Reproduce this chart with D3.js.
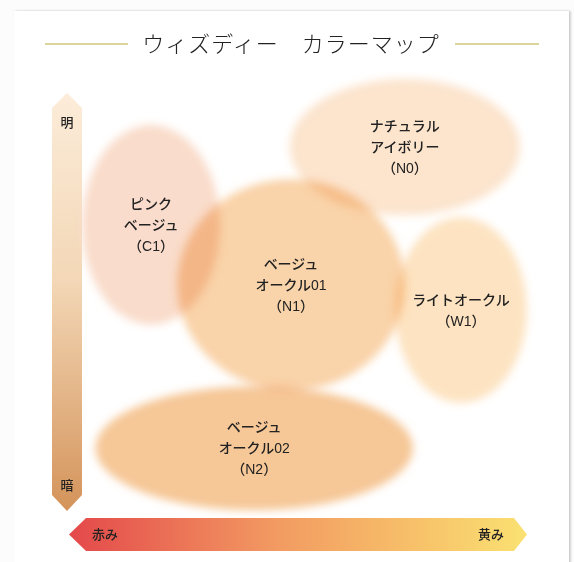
<!DOCTYPE html>
<html><head><meta charset="utf-8">
<script src="https://cdn.jsdelivr.net/npm/d3@7/dist/d3.min.js"></script>
<style>
html,body{margin:0;padding:0;background:#fcfcfc;}
svg{display:block;}
</style></head>
<body><svg id="c" width="574" height="562"></svg>
<script>
// ---- data ----
const title = "ウィズディー　カラーマップ";
const codes = ["C1", "N1", "N0", "W1", "N2"];
const labels = [
  ["ピンク", "ベージュ", "（C1）"],
  ["ベージュ", "オークル01", "（N1）"],
  ["ナチュラル", "アイボリー", "（N0）"],
  ["ライトオークル", "（W1）"],
  ["ベージュ", "オークル02", "（N2）"]
];
// redness(0) -> yellowness(100)
const hueX   = [15.2, 47.9, 74.5, 87.6, 39.3];
const hueR   = [16.1, 26.6, 26.9, 15.4, 37.1];
// dark(0) -> bright(100)
const lightY = [69.8, 54.3, 89.9, 47.8, 12.1];
const lightR = [25.8, 27.3, 17.6, 24.0, 16.0];
const fills  = ["#f9dccb", "#f9d3a9", "#fce4cd", "#fde3c1", "#f6c797"];
const axisX = ["赤み", "黄み"];
const axisY = ["明", "暗"];

// ---- drawing ----
const FONT = "'Liberation Sans', 'Noto Sans CJK JP', sans-serif";
const svg = d3.select("#c");
const defs = svg.append("defs");
const W = 574, H = 562;

const x = d3.scaleLinear().domain([0, 100]).range([86, 514]);
const y = d3.scaleLinear().domain([0, 100]).range([495, 108]);

// card
const sh = defs.append("filter").attr("id", "sh").attr("x", "-5%").attr("y", "-5%").attr("width", "110%").attr("height", "110%");
sh.append("feDropShadow").attr("dx", 1.5).attr("dy", 0).attr("stdDeviation", 1.2).attr("flood-color", "#999").attr("flood-opacity", 0.6);
svg.append("rect").attr("width", W).attr("height", H).attr("fill", "#fcfcfc");
svg.append("rect").attr("x", 14).attr("y", 11).attr("width", 555).attr("height", 570)
  .attr("fill", "#fff").attr("filter", "url(#sh)");

// title
svg.append("text").attr("x", 291).attr("y", 52).attr("text-anchor", "middle")
  .attr("font-family", "'Noto Sans CJK JP'").attr("font-size", 22).attr("font-weight", 300)
  .attr("fill", "#222").attr("letter-spacing", 1).text(title);
svg.append("line").attr("x1", 45).attr("x2", 128).attr("y1", 44).attr("y2", 44)
  .attr("stroke", "#cec57a").attr("stroke-width", 1.5);
svg.append("line").attr("x1", 455).attr("x2", 539).attr("y1", 44).attr("y2", 44)
  .attr("stroke", "#cec57a").attr("stroke-width", 1.5);

// gradients
const gv = defs.append("linearGradient").attr("id", "gv").attr("x1", 0).attr("x2", 0).attr("y1", 0).attr("y2", 1);
gv.append("stop").attr("offset", "0%").attr("stop-color", "#fcecd9");
gv.append("stop").attr("offset", "45%").attr("stop-color", "#f3d7b6");
gv.append("stop").attr("offset", "100%").attr("stop-color", "#d4935a");
const gh = defs.append("linearGradient").attr("id", "gh").attr("x1", 0).attr("x2", 1).attr("y1", 0).attr("y2", 0);
gh.append("stop").attr("offset", "0%").attr("stop-color", "#e4484a");
gh.append("stop").attr("offset", "45%").attr("stop-color", "#f29a62");
gh.append("stop").attr("offset", "75%").attr("stop-color", "#f7c069");
gh.append("stop").attr("offset", "100%").attr("stop-color", "#fae172");

// vertical arrow (brightness)
const vx0 = 52, vx1 = 82, vm = (vx0 + vx1) / 2;
const vTop = y(100) - 15, vBot = y(0) + 16;
svg.append("path").attr("fill", "url(#gv)")
  .attr("d", `M${vm},${vTop} L${vx1},${y(100)} L${vx1},${y(0)} L${vm},${vBot} L${vx0},${y(0)} L${vx0},${y(100)} Z`);
svg.append("text").attr("x", vm).attr("y", 127).attr("text-anchor", "middle")
  .attr("font-family", FONT).attr("font-size", 13).attr("font-weight", 500).attr("fill", "#222").text(axisY[0]);
svg.append("text").attr("x", vm).attr("y", 490).attr("text-anchor", "middle")
  .attr("font-family", FONT).attr("font-size", 13).attr("font-weight", 500).attr("fill", "#222").text(axisY[1]);

// horizontal arrow (hue)
const hy0 = 518, hy1 = 551, hm = (hy0 + hy1) / 2;
svg.append("path").attr("fill", "url(#gh)")
  .attr("d", `M${x(0) - 17},${hm} L${x(0)},${hy0} L${x(100)},${hy0} L${x(100) + 13},${hm} L${x(100)},${hy1} L${x(0)},${hy1} Z`);
svg.append("text").attr("x", 92).attr("y", 539)
  .attr("font-family", FONT).attr("font-size", 13).attr("font-weight", 500).attr("fill", "#222").text(axisX[0]);
svg.append("text").attr("x", 504).attr("y", 539).attr("text-anchor", "end")
  .attr("font-family", FONT).attr("font-size", 13).attr("font-weight", 500).attr("fill", "#222").text(axisX[1]);

// ellipses
const blur = defs.append("filter").attr("id", "bl").attr("x", "-15%").attr("y", "-15%").attr("width", "130%").attr("height", "130%");
blur.append("feGaussianBlur").attr("stdDeviation", 4.5);

const data = codes.map((c, i) => ({
  code: c, lines: labels[i], cx: hueX[i], rx: hueR[i], cy: lightY[i], ry: lightR[i], fill: fills[i]
}));
const kx = (x(100) - x(0)) / 100, ky = (y(0) - y(100)) / 100;

const eg = svg.append("g").style("isolation", "isolate");
eg.selectAll("ellipse").data(data).join("ellipse")
  .attr("cx", d => x(d.cx)).attr("cy", d => y(d.cy))
  .attr("rx", d => d.rx * kx).attr("ry", d => d.ry * ky)
  .attr("fill", d => d.fill).attr("filter", "url(#bl)")
  .style("mix-blend-mode", "multiply");

const lh = 21;
const lg = svg.append("g");
data.forEach(d => {
  const n = d.lines.length;
  const t = lg.append("text").attr("text-anchor", "middle")
    .attr("font-family", FONT).attr("font-size", 14).attr("font-weight", 500).attr("fill", "#222");
  d.lines.forEach((s, j) => {
    t.append("tspan").attr("x", x(d.cx)).attr("y", y(d.cy) + (j - (n - 1) / 2) * lh + 5).text(s);
  });
});
</script>
</body></html>
